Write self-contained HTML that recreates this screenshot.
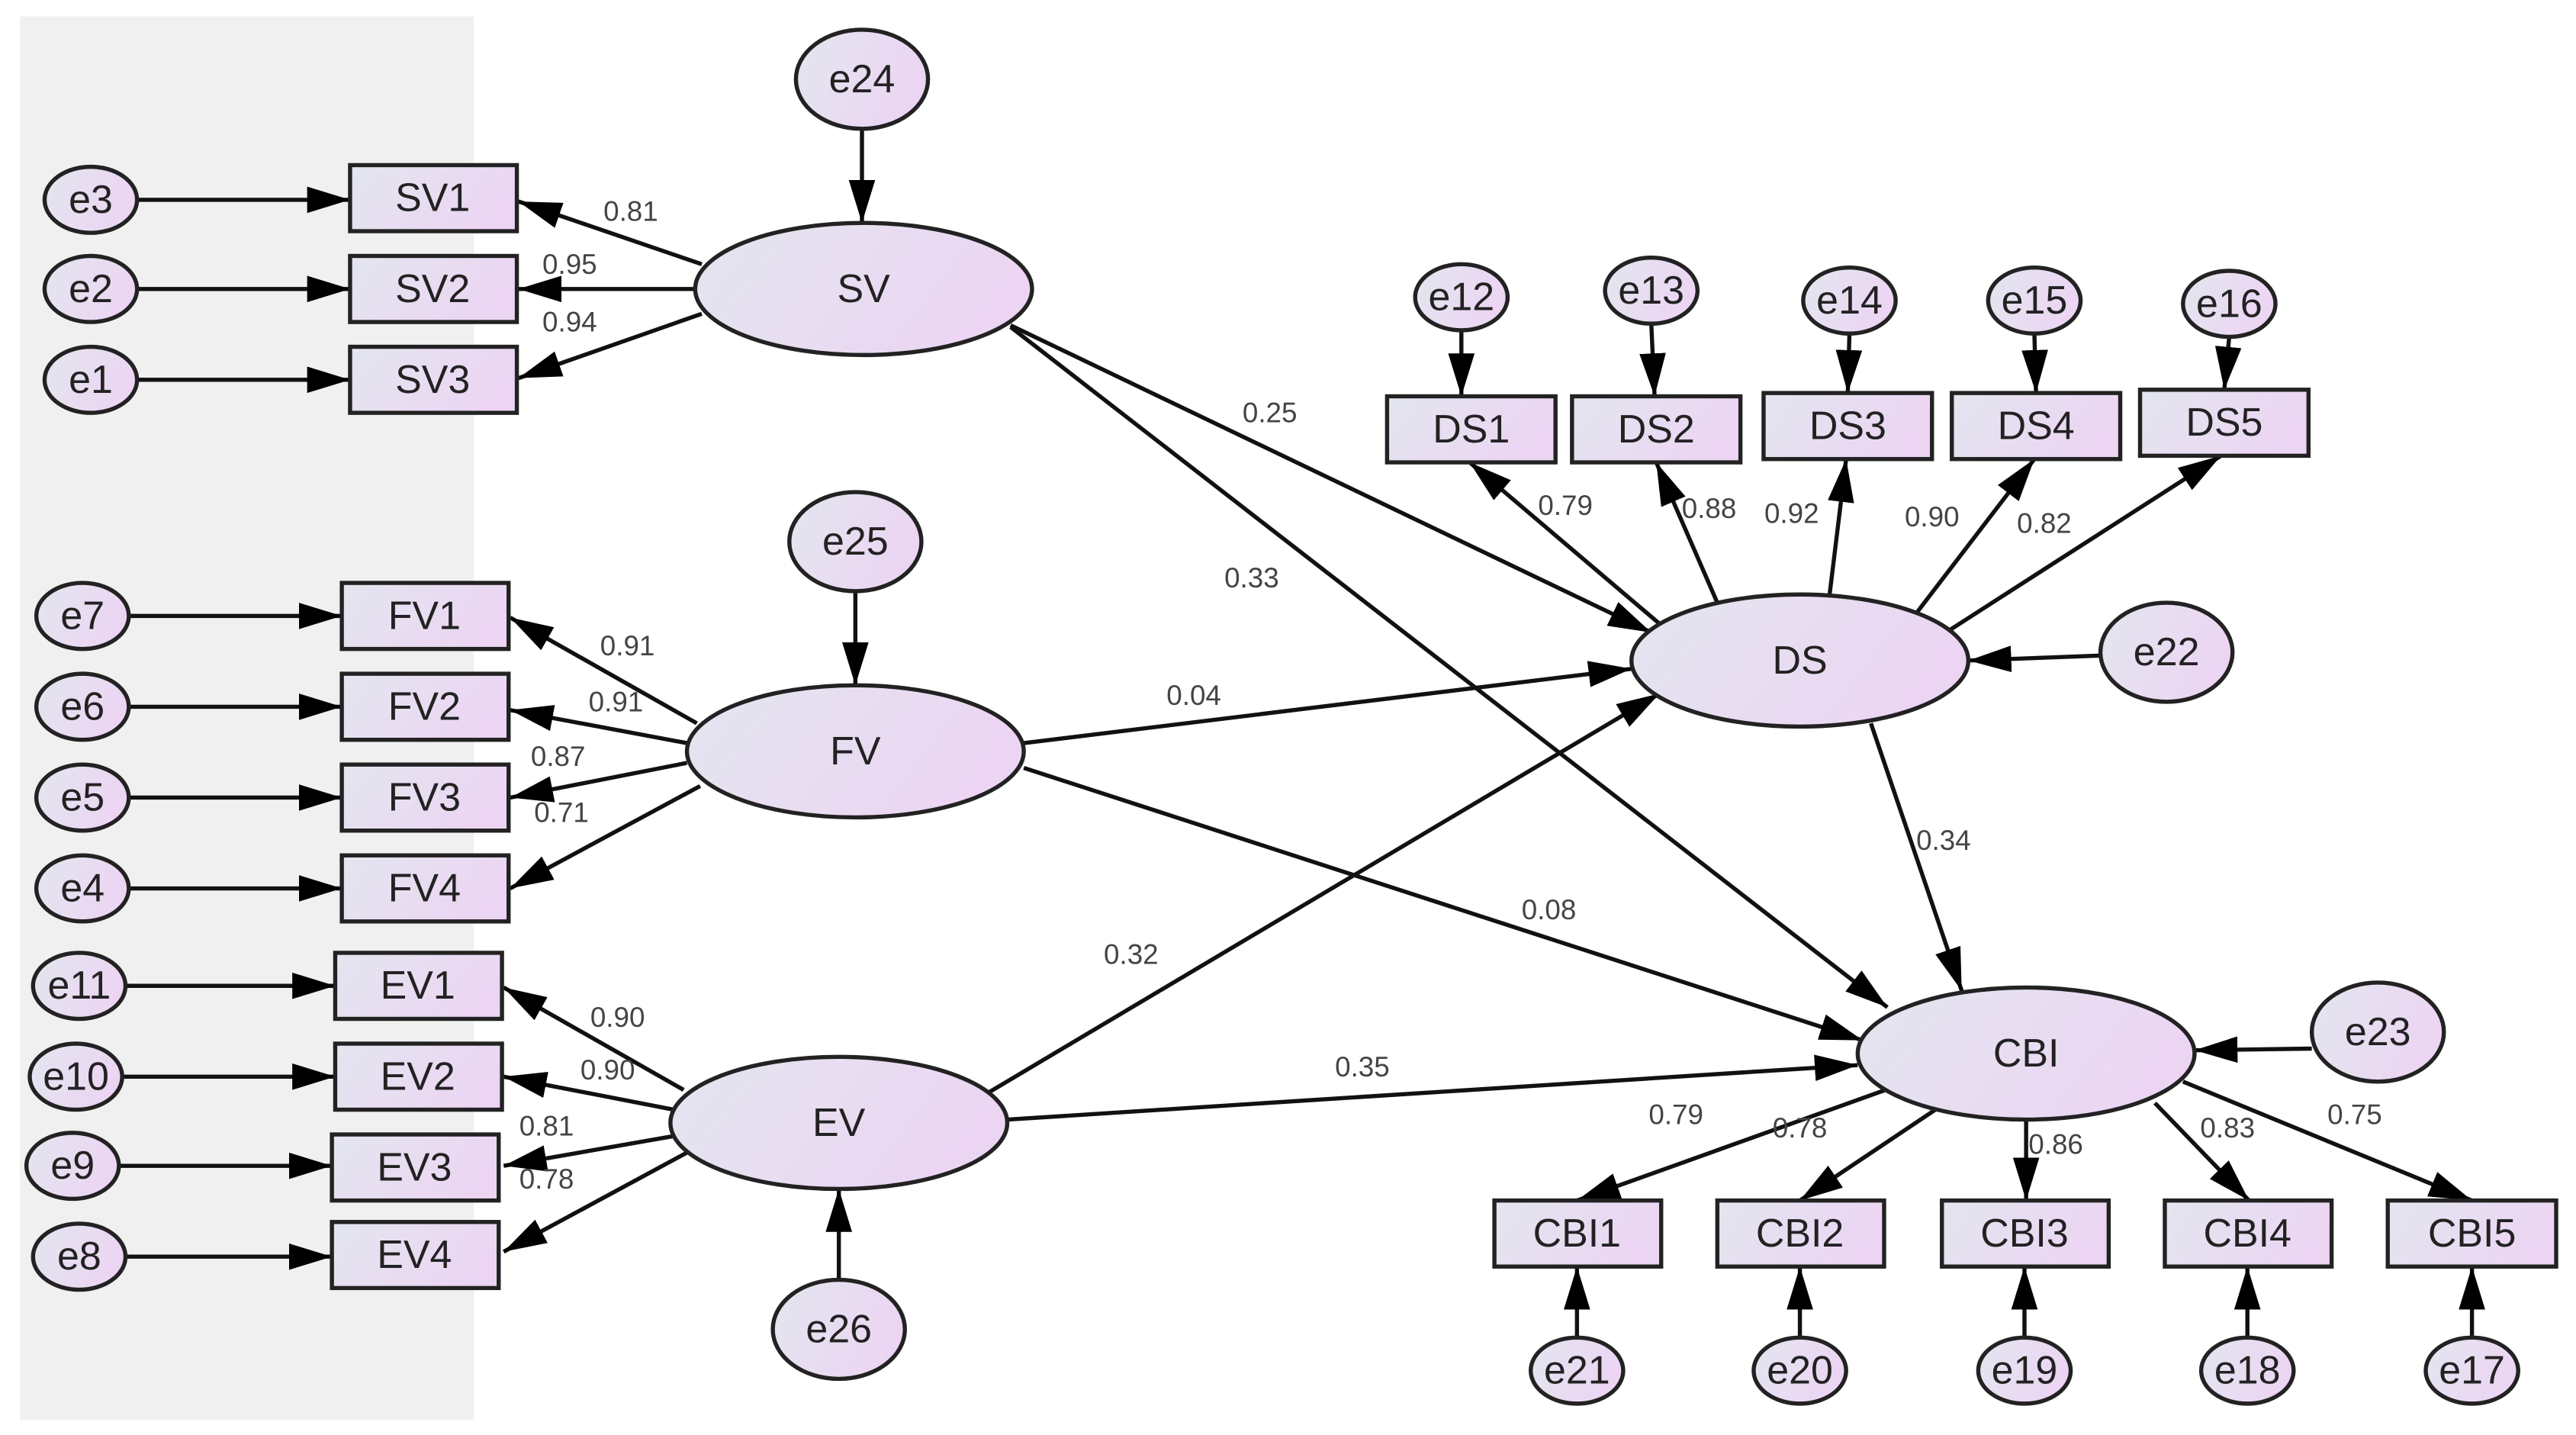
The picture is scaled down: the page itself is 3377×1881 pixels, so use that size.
<!DOCTYPE html>
<html><head><meta charset="utf-8"><style>html,body{margin:0;padding:0;background:#fff}svg{display:block}</style></head>
<body>
<svg width="3377" height="1881" viewBox="0 0 1560 869" preserveAspectRatio="none" xmlns="http://www.w3.org/2000/svg" font-family="Liberation Sans, sans-serif">
<defs>
<linearGradient id="g" x1="0" y1="0" x2="1" y2="0.3"><stop offset="0" stop-color="#e3e6ef"/><stop offset="1" stop-color="#ecd5f3"/></linearGradient>
<marker id="a" markerUnits="userSpaceOnUse" markerWidth="28" markerHeight="18" refX="26" refY="8" orient="auto"><path d="M0,0 L26,8 L0,16 z" fill="#000"/></marker>
</defs>
<rect x="12" y="10" width="275" height="850" fill="#f0f0f0"/>
<g stroke="#111" stroke-width="2.5" fill="none" marker-end="url(#a)">
<line x1="83" y1="121" x2="212" y2="121"/><line x1="83" y1="175" x2="212" y2="175"/><line x1="83" y1="230" x2="212" y2="230"/>
<line x1="425" y1="160" x2="314" y2="122"/><line x1="421" y1="175" x2="314" y2="175"/><line x1="425" y1="190" x2="314" y2="229"/>
<line x1="522" y1="78" x2="522" y2="135"/>
<line x1="612" y1="197" x2="1000" y2="383"/><line x1="612" y1="198" x2="1143" y2="610"/>
<line x1="78" y1="373" x2="207" y2="373"/><line x1="78" y1="428" x2="207" y2="428"/><line x1="78" y1="483" x2="207" y2="483"/><line x1="78" y1="538" x2="207" y2="538"/>
<line x1="422" y1="438" x2="309" y2="374"/><line x1="416" y1="450" x2="309" y2="430"/><line x1="416" y1="462" x2="309" y2="483"/><line x1="424" y1="476" x2="309" y2="538"/>
<line x1="518" y1="358" x2="518" y2="415"/>
<line x1="620" y1="450" x2="988" y2="405"/><line x1="620" y1="465" x2="1128" y2="630"/>
<line x1="76" y1="597" x2="203" y2="597"/><line x1="74" y1="652" x2="203" y2="652"/><line x1="72" y1="706" x2="201" y2="706"/><line x1="76" y1="761" x2="201" y2="761"/>
<line x1="414" y1="660" x2="305" y2="598"/><line x1="408" y1="672" x2="305" y2="652"/><line x1="408" y1="688" x2="305" y2="706"/><line x1="416" y1="698" x2="305" y2="758"/>
<line x1="508" y1="775" x2="508" y2="720"/>
<line x1="598" y1="662" x2="1005" y2="420"/><line x1="610" y1="678" x2="1125" y2="645"/>
<line x1="1010" y1="382" x2="890" y2="280"/><line x1="1040" y1="365" x2="1003" y2="280"/><line x1="1108" y1="360" x2="1118" y2="278"/><line x1="1160" y1="372" x2="1232" y2="278"/><line x1="1180" y1="382" x2="1345" y2="276"/>
<line x1="885" y1="200" x2="885" y2="240"/><line x1="1000" y1="196" x2="1002" y2="240"/><line x1="1120" y1="202" x2="1119" y2="238"/><line x1="1232" y1="202" x2="1233" y2="238"/><line x1="1350" y1="204" x2="1347" y2="236"/>
<line x1="1272" y1="397" x2="1192" y2="400"/>
<line x1="1133" y1="438" x2="1188" y2="600"/>
<line x1="1400" y1="635" x2="1329" y2="636"/>
<line x1="1142" y1="660" x2="955" y2="727"/><line x1="1172" y1="672" x2="1090" y2="727"/><line x1="1227" y1="678" x2="1227" y2="727"/><line x1="1305" y1="668" x2="1362" y2="727"/><line x1="1322" y1="655" x2="1497" y2="727"/>
<line x1="955" y1="810" x2="955" y2="767"/><line x1="1090" y1="810" x2="1090" y2="767"/><line x1="1226" y1="810" x2="1226" y2="767"/><line x1="1361" y1="810" x2="1361" y2="767"/><line x1="1497" y1="810" x2="1497" y2="767"/>
</g>
<g fill="url(#g)" stroke="#222" stroke-width="2.5">
<ellipse cx="522" cy="48" rx="40" ry="30"/><ellipse cx="523" cy="175" rx="102" ry="40"/>
<ellipse cx="518" cy="328" rx="40" ry="30"/><ellipse cx="518" cy="455" rx="102" ry="40"/>
<ellipse cx="508" cy="805" rx="40" ry="30"/><ellipse cx="508" cy="680" rx="102" ry="40"/>
<ellipse cx="1090" cy="400" rx="102" ry="40"/><ellipse cx="1312" cy="395" rx="40" ry="30"/>
<ellipse cx="1227" cy="638" rx="102" ry="40"/><ellipse cx="1440" cy="625" rx="40" ry="30"/>
<ellipse cx="55" cy="121" rx="28" ry="20"/><ellipse cx="55" cy="175" rx="28" ry="20"/><ellipse cx="55" cy="230" rx="28" ry="20"/>
<ellipse cx="50" cy="373" rx="28" ry="20"/><ellipse cx="50" cy="428" rx="28" ry="20"/><ellipse cx="50" cy="483" rx="28" ry="20"/><ellipse cx="50" cy="538" rx="28" ry="20"/>
<ellipse cx="48" cy="597" rx="28" ry="20"/><ellipse cx="46" cy="652" rx="28" ry="20"/><ellipse cx="44" cy="706" rx="28" ry="20"/><ellipse cx="48" cy="761" rx="28" ry="20"/>
<ellipse cx="885" cy="180" rx="28" ry="20"/><ellipse cx="1000" cy="176" rx="28" ry="20"/><ellipse cx="1120" cy="182" rx="28" ry="20"/><ellipse cx="1232" cy="182" rx="28" ry="20"/><ellipse cx="1350" cy="184" rx="28" ry="20"/>
<ellipse cx="955" cy="830" rx="28" ry="20"/><ellipse cx="1090" cy="830" rx="28" ry="20"/><ellipse cx="1226" cy="830" rx="28" ry="20"/><ellipse cx="1361" cy="830" rx="28" ry="20"/><ellipse cx="1497" cy="830" rx="28" ry="20"/>
<rect x="212" y="100" width="101" height="40"/><rect x="212" y="155" width="101" height="40"/><rect x="212" y="210" width="101" height="40"/>
<rect x="207" y="353" width="101" height="40"/><rect x="207" y="408" width="101" height="40"/><rect x="207" y="463" width="101" height="40"/><rect x="207" y="518" width="101" height="40"/>
<rect x="203" y="577" width="101" height="40"/><rect x="203" y="632" width="101" height="40"/><rect x="201" y="687" width="101" height="40"/><rect x="201" y="740" width="101" height="40"/>
<rect x="840" y="240" width="102" height="40"/><rect x="952" y="240" width="102" height="40"/><rect x="1068" y="238" width="102" height="40"/><rect x="1182" y="238" width="102" height="40"/><rect x="1296" y="236" width="102" height="40"/>
<rect x="905" y="727" width="101" height="40"/><rect x="1040" y="727" width="101" height="40"/><rect x="1176" y="727" width="101" height="40"/><rect x="1311" y="727" width="101" height="40"/><rect x="1446" y="727" width="102" height="40"/>
</g>
<g font-size="24" fill="#222" text-anchor="middle" dominant-baseline="central">
<text x="522" y="48">e24</text><text x="523" y="175">SV</text><text x="518" y="328">e25</text><text x="518" y="455">FV</text>
<text x="508" y="805">e26</text><text x="508" y="680">EV</text><text x="1090" y="400">DS</text><text x="1312" y="395">e22</text>
<text x="1227" y="638">CBI</text><text x="1440" y="625">e23</text>
<text x="55" y="121">e3</text><text x="55" y="175">e2</text><text x="55" y="230">e1</text>
<text x="50" y="373">e7</text><text x="50" y="428">e6</text><text x="50" y="483">e5</text><text x="50" y="538">e4</text>
<text x="48" y="597">e11</text><text x="46" y="652">e10</text><text x="44" y="706">e9</text><text x="48" y="761">e8</text>
<text x="885" y="180">e12</text><text x="1000" y="176">e13</text><text x="1120" y="182">e14</text><text x="1232" y="182">e15</text><text x="1350" y="184">e16</text>
<text x="955" y="830">e21</text><text x="1090" y="830">e20</text><text x="1226" y="830">e19</text><text x="1361" y="830">e18</text><text x="1497" y="830">e17</text>
<text x="262" y="120">SV1</text><text x="262" y="175">SV2</text><text x="262" y="230">SV3</text>
<text x="257" y="373">FV1</text><text x="257" y="428">FV2</text><text x="257" y="483">FV3</text><text x="257" y="538">FV4</text>
<text x="253" y="597">EV1</text><text x="253" y="652">EV2</text><text x="251" y="707">EV3</text><text x="251" y="760">EV4</text>
<text x="891" y="260">DS1</text><text x="1003" y="260">DS2</text><text x="1119" y="258">DS3</text><text x="1233" y="258">DS4</text><text x="1347" y="256">DS5</text>
<text x="955" y="747">CBI1</text><text x="1090" y="747">CBI2</text><text x="1226" y="747">CBI3</text><text x="1361" y="747">CBI4</text><text x="1497" y="747">CBI5</text>
</g>
<g font-size="17" fill="#444" text-anchor="middle" dominant-baseline="central">
<text x="382" y="128">0.81</text><text x="345" y="160">0.95</text><text x="345" y="195">0.94</text>
<text x="380" y="391">0.91</text><text x="373" y="425">0.91</text><text x="338" y="458">0.87</text><text x="340" y="492">0.71</text>
<text x="374" y="616">0.90</text><text x="368" y="648">0.90</text><text x="331" y="682">0.81</text><text x="331" y="714">0.78</text>
<text x="769" y="250">0.25</text><text x="758" y="350">0.33</text><text x="723" y="421">0.04</text><text x="938" y="551">0.08</text>
<text x="685" y="578">0.32</text><text x="825" y="646">0.35</text>
<text x="948" y="306">0.79</text><text x="1035" y="308">0.88</text><text x="1085" y="311">0.92</text><text x="1170" y="313">0.90</text><text x="1238" y="317">0.82</text>
<text x="1177" y="509">0.34</text>
<text x="1015" y="675">0.79</text><text x="1090" y="683">0.78</text><text x="1245" y="693">0.86</text><text x="1349" y="683">0.83</text><text x="1426" y="675">0.75</text>
</g>
</svg>
</body></html>
